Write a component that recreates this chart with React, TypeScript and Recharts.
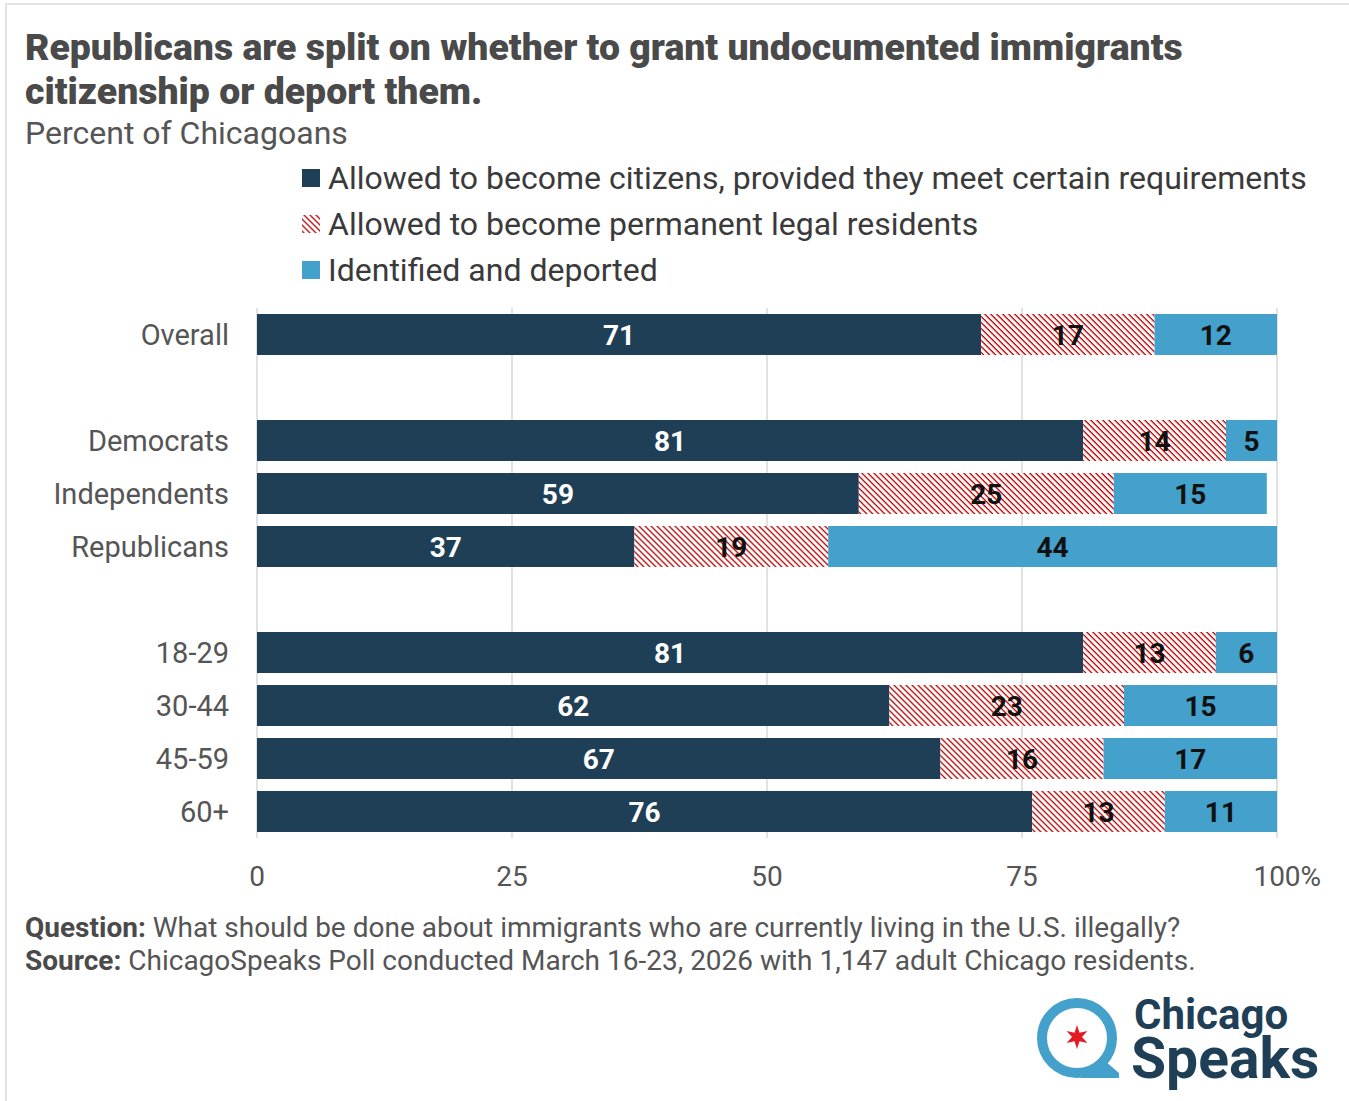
import React from 'react';
import { BarChart, Bar, XAxis, YAxis, CartesianGrid, LabelList } from 'recharts';

// ---------- data ----------
const categories = ['Overall', '', 'Democrats', 'Independents', 'Republicans', '', '18-29', '30-44', '45-59', '60+'];
const citizens = [71, null, 81, 59, 37, null, 81, 62, 67, 76];
const residents = [17, null, 14, 25, 19, null, 13, 23, 16, 13];
const deported = [12, null, 5, 15, 44, null, 6, 15, 17, 11];
const xTicks = [0, 25, 50, 75, 100];
const seriesNames = [
  'Allowed to become citizens, provided they meet certain requirements',
  'Allowed to become permanent legal residents',
  'Identified and deported',
];
const titleLines = [
  'Republicans are split on whether to grant undocumented immigrants',
  'citizenship or deport them.',
];
const subtitle = 'Percent of Chicagoans';
const questionText = 'What should be done about immigrants who are currently living in the U.S. illegally?';
const sourceText = 'ChicagoSpeaks Poll conducted March 16-23, 2026 with 1,147 adult Chicago residents.';

const data = categories.map((c, i) => ({
  id: `row${i}`,
  name: c,
  citizens: citizens[i],
  residents: residents[i],
  deported: deported[i],
}));

// ---------- style ----------
const DARK = '#1f3f56';
const BLUE = '#44a1cc';
const RED = '#c00000';
const FONT = 'Roboto, "Noto Sans", sans-serif';
const PLOT_LEFT = 257;
const PLOT_RIGHT = 1277;
const PLOT_TOP = 308;
const PLOT_BOTTOM = 838;
const W = 1349;
const H = 1101;
const CHART_H = 900;

const YTick = (props: any) => {
  const { y, index } = props;
  const label = categories[index] ?? '';
  return (
    <text x={PLOT_LEFT - 28} y={y} dy="0.35em" textAnchor="end" fontSize={29} fill="#555" fontFamily={FONT}>
      {label}
    </text>
  );
};

const XTick = (props: any) => {
  const { x, payload } = props;
  const v = payload.value;
  return (
    <g>
      <text x={x} y={876} dy="0.35em" textAnchor="middle" fontSize={28} fill="#555" fontFamily={FONT}>
        {v}
      </text>
      {v === 100 ? (
        <text x={x + 23.5} y={876} dy="0.35em" textAnchor="start" fontSize={28} fill="#555" fontFamily={FONT}>
          %
        </text>
      ) : null}
    </g>
  );
};

const makeLabel = (color: string) => (props: any) => {
  const { x, y, width, height, value } = props;
  if (value == null || value === '') return null;
  return (
    <text
      x={Number(x) + Number(width) / 2}
      y={Number(y) + Number(height) / 2}
      dy="0.36em"
      textAnchor="middle"
      fontSize={28}
      fontWeight={700}
      fill={color}
      fontFamily={FONT}
    >
      {value}
    </text>
  );
};

const starPoints = (cx: number, cy: number, ro: number, ri: number) => {
  const pts: string[] = [];
  for (let k = 0; k < 12; k++) {
    const r = k % 2 === 0 ? ro : ri;
    const a = -Math.PI / 2 + (k * Math.PI) / 6;
    pts.push(`${(cx + r * Math.cos(a)).toFixed(2)},${(cy + r * Math.sin(a)).toFixed(2)}`);
  }
  return pts.join(' ');
};

export default function App() {
  const legendY = [178, 224, 270];
  const legendFill = [DARK, 'url(#hatchRed)', BLUE];
  return (
    <div
      style={{
        position: 'absolute',
        left: 0,
        top: 0,
        width: W,
        height: H,
        overflow: 'hidden',
        background: '#fff',
        fontFamily: FONT,
      }}
    >
      <svg width={0} height={0} style={{ position: 'absolute' }}>
        <defs>
          <pattern id="hatchRed" patternUnits="userSpaceOnUse" width={4.24} height={4.24} patternTransform="rotate(45)">
            <rect x={0} y={0} width={4.24} height={4.24} fill="#fff" />
            <rect x={0} y={0} width={4.24} height={1.3} fill={RED} />
          </pattern>
        </defs>
      </svg>

      {/* frame */}
      <div
        style={{
          position: 'absolute',
          left: 5,
          top: 3,
          width: 2000,
          height: 2000,
          borderTop: '2px solid #e3e3e3',
          borderLeft: '2px solid #e3e3e3',
        }}
      />

      <div style={{ position: 'absolute', left: 0, top: 0 }}>
        <BarChart
          width={W}
          height={CHART_H}
          data={data}
          layout="vertical"
          margin={{ top: PLOT_TOP, right: W - PLOT_RIGHT, bottom: 0, left: 0 }}
          barCategoryGap={0}
        >
          <CartesianGrid horizontal={false} vertical stroke="#e2e2e2" strokeWidth={2} />
          <XAxis
            type="number"
            domain={[0, 100]}
            ticks={xTicks}
            axisLine={false}
            tickLine={false}
            height={CHART_H - PLOT_BOTTOM}
            tick={<XTick />}
            interval={0}
          />
          <YAxis
            type="category"
            dataKey="id"
            width={PLOT_LEFT}
            axisLine={false}
            tickLine={false}
            tick={<YTick />}
            interval={0}
          />
          <Bar dataKey="citizens" stackId="a" fill={DARK} barSize={41} isAnimationActive={false}>
            <LabelList dataKey="citizens" content={makeLabel('#fff')} />
          </Bar>
          <Bar dataKey="residents" stackId="a" fill="url(#hatchRed)" barSize={41} isAnimationActive={false}>
            <LabelList dataKey="residents" content={makeLabel('#111')} />
          </Bar>
          <Bar dataKey="deported" stackId="a" fill={BLUE} barSize={41} isAnimationActive={false}>
            <LabelList dataKey="deported" content={makeLabel('#111')} />
          </Bar>
        </BarChart>
      </div>

      <svg
        width={W}
        height={H}
        style={{ position: 'absolute', left: 0, top: 0, pointerEvents: 'none' }}
      >
        {/* title */}
        <text x={25} y={60} fontSize={37.4} fontWeight={900} fill="#4a4a4a" fontFamily={FONT}>
          {titleLines[0]}
        </text>
        <text x={25} y={104} fontSize={37.4} fontWeight={900} fill="#4a4a4a" fontFamily={FONT}>
          {titleLines[1]}
        </text>
        <text x={25} y={144} fontSize={32} fill="#555" fontFamily={FONT}>
          {subtitle}
        </text>

        {/* legend */}
        {seriesNames.map((n, i) => (
          <g key={n}>
            <rect x={302} y={legendY[i] - 9} width={18} height={18} fill={legendFill[i]} />
            <text x={328} y={legendY[i]} dy="0.35em" fontSize={32} fill="#3a3a3a" fontFamily={FONT}>
              {n}
            </text>
          </g>
        ))}

        {/* footer */}
        <text x={25} y={927} dy="0.35em" fontSize={28} fill="#555" fontFamily={FONT}>
          <tspan fontWeight={700} fill="#4a4a4a">Question:</tspan>
          <tspan> {questionText}</tspan>
        </text>
        <text x={25} y={960} dy="0.35em" fontSize={28} fill="#555" fontFamily={FONT}>
          <tspan fontWeight={700} fill="#4a4a4a">Source:</tspan>
          <tspan> {sourceText}</tspan>
        </text>

        {/* logo */}
        <circle cx={1077} cy={1038} r={35} fill="none" stroke={BLUE} strokeWidth={10} />
        <polygon points="1090,1070 1105,1061 1119,1073 1119,1078 1080,1078" fill={BLUE} />
        <polygon points={starPoints(1077, 1037, 12, 5)} fill="#e31b23" />
        <text fontWeight={700} fill={DARK} fontFamily={FONT}>
          <tspan x={1134} y={1029} fontSize={42}>Chicago</tspan>
          <tspan x={1131} y={1078} fontSize={57}>Speaks</tspan>
        </text>
      </svg>
    </div>
  );
}
